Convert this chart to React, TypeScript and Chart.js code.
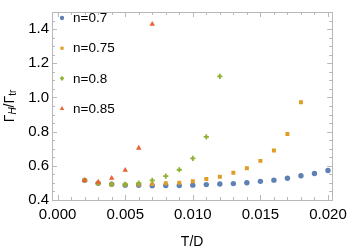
import React, { useEffect, useRef } from 'react';
import { Chart, registerables } from 'chart.js';
import { drawPoint } from 'chart.js/helpers';

Chart.register(...registerables);

const temps = [0.002, 0.003, 0.004, 0.005, 0.006, 0.007, 0.008, 0.009, 0.010, 0.011, 0.012, 0.013, 0.014, 0.015, 0.016, 0.017, 0.018, 0.019, 0.020];
const ratioN070 = [0.515, 0.498, 0.492, 0.487, 0.486, 0.484, 0.485, 0.485, 0.487, 0.490, 0.494, 0.496, 0.501, 0.509, 0.516, 0.527, 0.542, 0.555, 0.573];
const ratioN075 = [0.515, 0.499, 0.492, 0.490, 0.491, 0.493, 0.498, 0.501, 0.510, 0.523, 0.536, 0.559, 0.586, 0.629, 0.690, 0.786, 0.972];
const ratioN080 = [0.515, 0.497, 0.492, 0.491, 0.499, 0.515, 0.540, 0.577, 0.643, 0.769, 1.123];
const ratioN085 = [0.515, 0.505, 0.528, 0.575, 0.704, 1.429];

const seriesLabels = ['n=0.7', 'n=0.75', 'n=0.8', 'n=0.85'];
const xTickValues = [0, 0.005, 0.01, 0.015, 0.02];
const xTickLabels = ['0.000', '0.005', '0.010', '0.015', '0.020'];
const yTickValues = [0.4, 0.6, 0.8, 1.0, 1.2, 1.4];
const yTickLabels = ['0.4', '0.6', '0.8', '1.0', '1.2', '1.4'];
const xTitle = 'T/D';

const FONT = "'Liberation Sans', Arial, sans-serif";
const FRAME = '#b8b8b8';

const colors = ['#5E81B5', '#E19C24', '#8FB032', '#EB6235'];
const styles = [
  { pointStyle: 'circle', radius: 2.7, borderWidth: 0 },
  { pointStyle: 'rect', radius: 2.8, borderWidth: 0 },
  { pointStyle: 'cross', radius: 2.6, borderWidth: 1.8 },
  { pointStyle: 'triangle', radius: 3.2, borderWidth: 0 },
];

const seriesValues = [ratioN070, ratioN075, ratioN080, ratioN085];

function frameAndText() {
  return {
    id: 'frameAndText',
    beforeDatasetsDraw(chart: any) {
      const { ctx, chartArea: a, scales } = chart;
      const xs = scales.x, ys = scales.y;
      ctx.save();
      ctx.strokeStyle = FRAME;
      ctx.lineWidth = 1;
      ctx.strokeRect(Math.round(a.left) + 0.5, Math.round(a.top) + 0.5, Math.round(a.right - a.left), Math.round(a.bottom - a.top));
      ctx.beginPath();
      for (let i = 0; i <= 20; i++) {
        const v = i * 0.001;
        const px = Math.round(xs.getPixelForValue(v)) + 0.5;
        const len = i % 5 === 0 ? 5 : 3;
        ctx.moveTo(px, a.bottom);
        ctx.lineTo(px, a.bottom - len);
        ctx.moveTo(px, a.top);
        ctx.lineTo(px, a.top + len);
      }
      for (let i = 0; i <= 22; i++) {
        const v = 0.4 + i * 0.05;
        if (v > ys.max + 1e-9) break;
        const py = Math.round(ys.getPixelForValue(v)) + 0.5;
        const len = i % 4 === 0 ? 5 : 3;
        ctx.moveTo(a.left, py);
        ctx.lineTo(a.left + len, py);
        ctx.moveTo(a.right, py);
        ctx.lineTo(a.right - len, py);
      }
      ctx.stroke();
      ctx.restore();
    },
    afterDraw(chart: any) {
      const { ctx, chartArea: a } = chart;
      ctx.save();
      const legX = 62, legTextX = 73, legTop = 18, legGap = 30.2, legScale = 0.8;
      chart.data.datasets.forEach((ds: any, i: number) => {
        const y = legTop + i * legGap;
        ctx.fillStyle = ds.backgroundColor;
        ctx.strokeStyle = ds.borderColor;
        ctx.lineWidth = ds.pointBorderWidth;
        drawPoint(ctx, {
          pointStyle: ds.pointStyle,
          radius: ds.pointRadius * legScale,
          borderWidth: ds.pointBorderWidth,
          rotation: 0,
        } as any, legX, y);
        ctx.fillStyle = '#000';
        ctx.font = `13.5px ${FONT}`;
        ctx.textAlign = 'left';
        ctx.textBaseline = 'middle';
        ctx.fillText(ds.label, legTextX, y + 0.5);
      });
      ctx.fillStyle = '#000';
      ctx.font = `14px ${FONT}`;
      ctx.textAlign = 'center';
      ctx.textBaseline = 'middle';
      ctx.fillText(xTitle, (a.left + a.right) / 2, 242);
      const parts = [
        { t: 'Γ', f: `14px ${FONT}`, dy: 0 },
        { t: 'H', f: `italic 10px ${FONT}`, dy: 3.5 },
        { t: '/Γ', f: `14px ${FONT}`, dy: 0 },
        { t: 'tr', f: `10px ${FONT}`, dy: 3.5 },
      ];
      let total = 0;
      parts.forEach((p) => { ctx.font = p.f; total += ctx.measureText(p.t).width; });
      ctx.translate(10, (a.top + a.bottom) / 2);
      ctx.rotate(-Math.PI / 2);
      ctx.textAlign = 'left';
      ctx.textBaseline = 'middle';
      let x = -total / 2;
      parts.forEach((p) => {
        ctx.font = p.f;
        ctx.fillText(p.t, x, p.dy);
        x += ctx.measureText(p.t).width;
      });
      ctx.restore();
    },
  };
}

export default function App() {
  const ref = useRef<HTMLCanvasElement>(null);
  useEffect(() => {
    document.body.style.margin = '0';
    const datasets = seriesValues.map((vals, i) => ({
      label: seriesLabels[i],
      data: vals.map((v, j) => ({ x: temps[j], y: v })),
      backgroundColor: colors[i],
      borderColor: colors[i],
      pointStyle: styles[i].pointStyle,
      pointRadius: styles[i].radius,
      pointBorderWidth: styles[i].borderWidth,
      showLine: false,
      order: 3 - i,
    }));
    const chart = new Chart(ref.current!, {
      type: 'scatter',
      data: { datasets } as any,
      plugins: [frameAndText()],
      options: {
        animation: false,
        responsive: false,
        events: [],
        layout: { padding: { left: 0, right: 16, top: 1, bottom: 0 } },
        plugins: { legend: { display: false }, tooltip: { enabled: false } },
        scales: {
          x: {
            type: 'linear',
            min: -0.000415,
            max: 0.020313,
            grid: { display: false, drawTicks: false },
            border: { display: false },
            afterBuildTicks: (s: any) => { s.ticks = xTickValues.map((v) => ({ value: v })); },
            afterFit: (s: any) => { s.height = 51; },
            ticks: {
              autoSkip: false,
              maxRotation: 0,
              padding: 6,
              color: '#000',
              font: { family: FONT, size: 15 },
              callback: (_v: any, i: number) => xTickLabels[i],
            },
          },
          y: {
            type: 'linear',
            min: 0.4,
            max: 1.5,
            grid: { display: false, drawTicks: false },
            border: { display: false },
            afterBuildTicks: (s: any) => { s.ticks = yTickValues.map((v) => ({ value: v })); },
            afterFit: (s: any) => { s.width = 52; },
            ticks: {
              autoSkip: false,
              padding: 3,
              color: '#000',
              font: { family: FONT, size: 15 },
              callback: (_v: any, i: number) => yTickLabels[i],
            },
          },
        },
      } as any,
    });
    return () => chart.destroy();
  }, []);
  return (
    <div style={{ position: 'absolute', left: 0, top: 0, width: 353, height: 251 }}>
      <canvas ref={ref} width={353} height={251} style={{ width: 353, height: 251 }} />
    </div>
  );
}
